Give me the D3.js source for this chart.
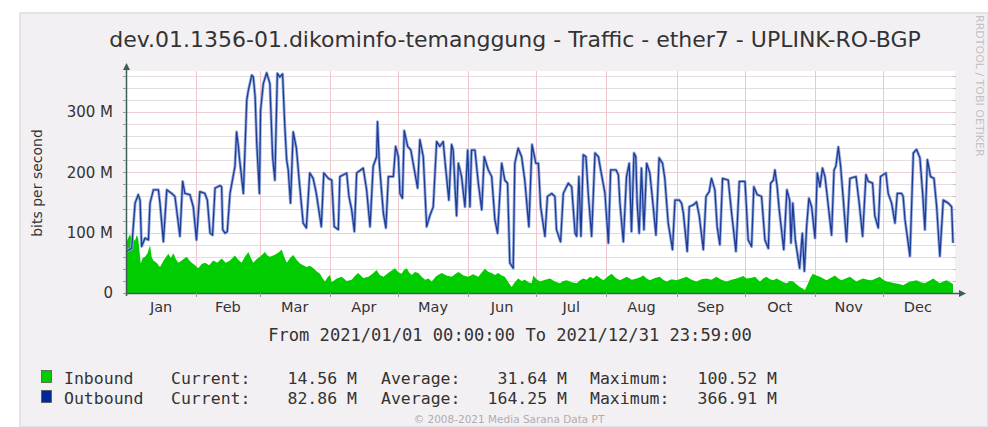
<!DOCTYPE html>
<html>
<head>
<meta charset="utf-8">
<script src="https://cdn.jsdelivr.net/npm/d3@7"></script>
<style>
  body { margin: 0; background: #fff; }
  svg { display: block; }
</style>
</head>
<body>
<div id="chart"></div>
<script>
/////////////////////////////////////////////////////////////////////
//DATA///////////////////////////////////////////////////////////////

var titleText = "dev.01.1356-01.dikominfo-temanggung - Traffic - ether7 - UPLINK-RO-BGP";
var rangeText = "From 2021/01/01 00:00:00 To 2021/12/31 23:59:00";
var monthLabels = ["Jan","Feb","Mar","Apr","May","Jun","Jul","Aug","Sep","Oct","Nov","Dec"];
var yTickValues = [0, 100, 200, 300];
var yTickLabels = ["0", "100 M", "200 M", "300 M"];

// [day of year, Mbit/s]
var inbound = [
  [0,82],[0.8,90],[1.8,98],[2.5,88],[3.2,92],[4.0,86],[4.7,96],[5.4,90],[6.5,49],[7.4,58],[8.4,60],
  [9.5,66],[10.6,79],[11.3,60],[12.1,54],[13.5,50],[15,43],[16.8,55],[18.7,65],[19.8,58],[20.9,66],
  [22,56],[23.1,50],[25,55],[26.8,60],[28,54],[29,50],[30.5,46],[31.9,41],[33.4,48],[34.9,50],
  [36.7,46],[38.5,54],[40.3,50],[42.2,57],[44,50],[45.9,54],[47,58],[48.1,62],[49.5,55],[51,50],
  [52.5,60],[54,68],[55.1,58],[56.2,50],[57.6,56],[59.1,60],[60.2,64],[61.3,68],[62.4,62],[63.5,60],
  [65,62],[66.5,65],[67.6,68],[68.7,72],[69.8,60],[71,50],[72.4,58],[73.8,63],[75.3,55],[76.8,49],
  [78.2,46],[79.7,43],[81.2,45],[82.7,41],[84.1,36],[85.6,32],[86.7,25],[87.8,19],[89,26],[90,30],
  [90.8,18],[93,24],[95.2,27],[97.4,20],[99.6,22],[101,28],[102.5,33],[104.7,25],[107,27],[108.8,32],
  [110.6,38],[112,30],[113.6,27],[116,34],[118.7,41],[120.1,35],[121.6,32],[122.7,38],[123.9,41],
  [125,34],[126.1,30],[127.5,35],[129,33],[130.5,27],[132,22],[133.5,24],[134.9,19],[137,28],[139.3,33],
  [141.5,29],[143.7,27],[145.2,31],[146.7,35],[149,29],[151,27],[153.2,31],[155.5,27],[157,34],[158.4,40],
  [160,35],[161.4,33],[162.8,30],[164.3,33],[165.8,29],[167.2,27],[168.7,18],[170.2,10],[171.6,18],
  [173.1,24],[174.6,20],[176.1,22],[177.6,18],[179,16],[179.8,29],[181.2,23],[182.7,19],[185,22],
  [187.1,24],[189.3,19],[191.5,16],[193,20],[194.5,21],[196.7,18],[198.9,16],[200.4,21],[201.8,24],
  [203.3,22],[204.8,27],[206.2,24],[207.7,29],[209.2,25],[210.7,21],[212.5,27],[214.3,32],[216.2,25],
  [218,21],[219.5,24],[221,27],[223.2,22],[225.4,24],[226.9,26],[228.3,29],[229.8,24],[231.2,21],
  [233.4,25],[235.6,27],[237.1,22],[238.6,19],[240.8,23],[243,21],[245.2,24],[247.4,27],[249.6,22],
  [251.8,19],[254,23],[256.2,24],[258.4,22],[260.6,27],[262.8,22],[265,19],[267.2,22],[269.5,24],
  [271,26],[272.4,28],[273.9,24],[275.7,25],[277.6,27],[279.8,19],[281.2,24],[282.7,27],[284.2,23],
  [285.7,21],[287.1,24],[288.6,21],[290.1,18],[291.6,16],[293,20],[294.5,19],[296,14],[297.4,10],
  [298.5,8],[299.6,5],[300.8,14],[301.9,24],[303.1,32],[304.7,29],[306.3,27],[307.7,24],[309.2,21],
  [311,25],[312.9,29],[314.4,24],[315.8,21],[317.6,24],[319.5,27],[321,23],[322.4,19],[323.9,22],
  [325.4,24],[327.2,22],[329.1,21],[330.9,24],[332.7,27],[334.2,22],[335.7,19],[337.5,18],[339.4,16],
  [341.2,15],[343,13],[344.5,16],[346,19],[347.5,20],[348.9,21],[350.7,18],[352.6,16],[354.4,20],
  [356.3,24],[357.7,20],[359.2,16],[360.7,19],[362.2,21],[363.7,18],[365,15]
];

var outbound = [
  [0.3,69],[1.5,72],[2.5,74],[4,149],[5.4,163],[6.2,154],[6.9,77],[8.4,91],[9.9,88],[10.6,149],[12.1,171],
  [14.3,171],[15,149],[16.5,85],[18,171],[20.2,165],[21.6,160],[23.8,94],[25,185],[26,165],[28.2,163],
  [29.7,143],[31.1,88],[32.6,168],[34.8,165],[35.9,154],[37.1,99],[38.2,96],[39.3,174],[41.5,178],
  [42.2,176],[42.7,105],[43.7,99],[44.7,102],[45.9,165],[48.1,210],[48.8,267],[49.6,243],[50,226],
  [51.8,165],[52.5,237],[53.3,320],[54,336],[55.5,361],[56.2,358],[57,325],[57.7,248],[58.9,165],
  [59.4,303],[60.6,347],[62.1,365],[63.5,347],[64.7,226],[65.7,187],[66.8,364],[67.9,358],[69.1,363],
  [70.1,276],[70.9,221],[71.6,204],[72.6,149],[73.8,267],[75.2,240],[76.7,176],[78.2,116],[79.6,108],
  [81.1,199],[82.6,190],[84,165],[86.2,110],[87.3,199],[89.3,190],[90.8,187],[91.9,110],[93.7,105],
  [94.4,193],[97.4,199],[98.4,160],[99.6,138],[100.8,102],[101.8,199],[104.7,207],[106.2,171],[107.7,110],
  [109.1,210],[110.6,226],[111,284],[111.8,215],[113.6,132],[114.7,108],[115.8,193],[118,193],[119,243],
  [120.2,226],[120.9,165],[122,157],[122.8,269],[124.3,243],[125.7,237],[127.5,199],[128.7,174],[129.7,254],
  [131.2,226],[132.7,110],[134.1,128],[135.6,143],[137.1,251],[138.5,243],[140,251],[141,210],[142.5,154],
  [143.7,246],[144.4,237],[145.2,176],[145.9,128],[146.7,215],[148.1,193],[149.6,143],[150.8,237],
  [151.8,143],[152.5,237],[154,237],[155.5,182],[157,138],[158.1,226],[159.9,204],[161.4,193],[162.8,122],
  [164,99],[165.8,215],[167.2,187],[168.4,182],[169.4,50],[170.9,41],[171.6,215],[173.1,240],[174.6,226],
  [176,187],[177.8,110],[179.2,246],[180.9,215],[182,215],[183,143],[184.9,94],[186,160],[187.9,165],
  [189.3,160],[190,105],[191.8,85],[193,165],[195.2,182],[196.7,176],[198.2,99],[198.9,94],[199.9,193],
  [200.8,94],[201.8,229],[203,226],[204,165],[205.5,94],[207,232],[208.5,226],[209.5,204],[211.4,165],
  [212.9,83],[213.9,204],[216.3,204],[217.3,196],[218,149],[219.5,85],[220.9,193],[222.1,215],[223.1,102],
  [224.2,232],[225,226],[225.6,149],[226.5,99],[227.5,207],[228.6,105],[229.8,215],[231.2,199],[232.4,154],
  [233.9,96],[235.3,224],[236.8,215],[237.8,190],[239.3,116],[241.2,72],[242.3,154],[244.2,154],[245.2,149],
  [246,132],[247.7,69],[248.6,143],[250.4,146],[251.8,151],[253,128],[254.8,72],[256,160],[257.4,168],
  [258.4,190],[259.9,171],[260.9,110],[262.1,80],[263.3,190],[265.8,187],[267.3,132],[269.2,69],[270.7,185],
  [273.2,185],[274.6,88],[276.1,77],[277.1,176],[278.6,163],[280.5,160],[282,88],[283.5,74],[284.5,182],
  [285.7,187],[286.4,204],[287.4,176],[288.3,138],[290.3,72],[291.7,171],[292.9,154],[293.5,83],[294.3,149],
  [295.4,88],[297.3,41],[298.5,99],[299.4,36],[300.4,110],[301.4,157],[302.6,143],[304.1,91],[305.1,199],
  [306.3,176],[307.4,207],[308.5,193],[309.5,160],[311.4,96],[312.5,204],[313.3,210],[314.4,242],[315.4,210],
  [316.6,154],[318,85],[319.5,190],[322.2,193],[323.6,149],[325.1,94],[326.6,196],[327.6,185],[329.5,182],
  [330.5,128],[332,108],[333,193],[335.4,199],[336.4,165],[337.9,149],[339.4,116],[340.4,165],[342.3,165],
  [343,160],[343.8,122],[346,61],[347.5,232],[348.9,238],[350.4,224],[351.6,165],[352.6,105],[353.7,221],
  [355.1,193],[356.6,190],[357.8,143],[359.2,61],[360.7,154],[362.9,149],[364.4,143],[365,83]
];

var legendNames = ["Inbound", "Outbound"];
var legendColors = ["#00cc00", "#002a97"];
var legendCurrent = ["14.56 M", "82.86 M"];
var legendAverage = ["31.64 M", "164.25 M"];
var legendMaximum = ["100.52 M", "366.91 M"];

/////////////////////////////////////////////////////////////////////
//PAGE SETUP/////////////////////////////////////////////////////////

var width = 988, height = 427;
var plotLeft = 126, plotRight = 953, plotTop = 71, plotBottom = 293;

var svg = d3.select("#chart").append("svg")
  .attr("width", width).attr("height", height);

// background frame
svg.append("rect").attr("x", 0).attr("y", 0).attr("width", width).attr("height", height).attr("fill", "#ffffff");
svg.append("rect").attr("x", 20).attr("y", 13).attr("width", width - 20).attr("height", height - 13)
  .attr("fill", "#f3f0f3").attr("stroke", "#dedbdf").attr("stroke-width", 1.5);

svg.append("rect").attr("x", plotLeft).attr("y", plotTop)
  .attr("width", plotRight - plotLeft + 2).attr("height", plotBottom - plotTop)
  .attr("fill", "#ffffff");

var start = new Date(2021, 0, 1);
var end = new Date(2022, 0, 1);
var x = d3.scaleTime().domain([start, end]).range([plotLeft, plotRight]);
var y = d3.scaleLinear().domain([0, 368]).range([plotBottom, plotTop]);

function dayToDate(d){ return new Date(start.getTime() + d * 86400000); }

//GRID///////////////////////////////////////////////////////////////
var minorVals = d3.range(20, 361, 20).filter(function(v){ return v % 100 !== 0; });
svg.append("g").selectAll("line").data(minorVals)
  .enter().append("line")
  .attr("x1", plotLeft).attr("x2", plotRight + 2)
  .attr("y1", function(d){ return Math.round(y(d)) + 0.5; })
  .attr("y2", function(d){ return Math.round(y(d)) + 0.5; })
  .attr("stroke", "#e6dde2").attr("stroke-width", 1);

svg.append("g").selectAll("line").data(yTickValues.slice(1))
  .enter().append("line")
  .attr("x1", plotLeft).attr("x2", plotRight + 2)
  .attr("y1", function(d){ return Math.round(y(d)) + 0.5; })
  .attr("y2", function(d){ return Math.round(y(d)) + 0.5; })
  .attr("stroke", "#efcfd3").attr("stroke-width", 1);

var monthStarts = d3.timeMonth.range(start, end);
svg.append("g").selectAll("line").data(monthStarts.slice(1))
  .enter().append("line")
  .attr("x1", function(d){ return Math.round(x(d)) + 0.5; })
  .attr("x2", function(d){ return Math.round(x(d)) + 0.5; })
  .attr("y1", plotTop).attr("y2", plotBottom + 3)
  .attr("stroke", "#f0c8cc").attr("stroke-width", 1);

// small ticks on the right edge
svg.append("g").selectAll("line").data(d3.range(20, 361, 20))
  .enter().append("line")
  .attr("x1", plotRight).attr("x2", plotRight + 3)
  .attr("y1", function(d){ return Math.round(y(d)) + 0.5; })
  .attr("y2", function(d){ return Math.round(y(d)) + 0.5; })
  .attr("stroke", "#c8c0c8");

//DATA MARKS/////////////////////////////////////////////////////////
var area = d3.area()
  .x(function(d){ return x(dayToDate(d[0])); })
  .y0(y(0))
  .y1(function(d){ return y(d[1]); });

svg.append("path").datum(inbound)
  .attr("d", area).attr("fill", "#00cc00");

var line = d3.line()
  .x(function(d){ return x(dayToDate(d[0])); })
  .y(function(d){ return y(d[1]); });

svg.append("path").datum(outbound)
  .attr("d", line).attr("fill", "none")
  .attr("stroke", "#9aaede").attr("stroke-width", 3).attr("stroke-linejoin", "round");
svg.append("path").datum(outbound)
  .attr("d", line).attr("fill", "none")
  .attr("stroke", "#1d3c96").attr("stroke-width", 1.3).attr("stroke-linejoin", "round");

//AXES///////////////////////////////////////////////////////////////
var axisColor = "#3d5e52";
svg.append("line").attr("x1", plotLeft).attr("x2", plotRight + 8)
  .attr("y1", plotBottom + 0.5).attr("y2", plotBottom + 0.5)
  .attr("stroke", axisColor).attr("stroke-width", 1.5);
svg.append("path")
  .attr("d", "M" + (plotRight + 13) + "," + (plotBottom + 0.5) + " l-7,-3.5 l0,7 z")
  .attr("fill", axisColor);

svg.append("line").attr("x1", plotLeft + 0.5).attr("x2", plotLeft + 0.5)
  .attr("y1", plotBottom + 3).attr("y2", plotTop - 4)
  .attr("stroke", axisColor).attr("stroke-width", 1.5);
svg.append("path")
  .attr("d", "M" + (plotLeft + 0.5) + "," + (plotTop - 8) + " l-3.5,7 l7,0 z")
  .attr("fill", axisColor);

// y ticks
svg.append("g").selectAll("line").data(d3.range(0, 361, 20))
  .enter().append("line")
  .attr("x1", plotLeft - 3).attr("x2", plotLeft)
  .attr("y1", function(d){ return Math.round(y(d)) + 0.5; })
  .attr("y2", function(d){ return Math.round(y(d)) + 0.5; })
  .attr("stroke", "#9a9a9a");

svg.append("g").selectAll("text").data(yTickValues)
  .enter().append("text")
  .attr("x", 113)
  .attr("y", function(d){ return y(d); })
  .attr("dy", "0.36em")
  .attr("text-anchor", "end")
  .style("font-family", "DejaVu Sans")
  .style("font-size", "15px")
  .attr("fill", "#333")
  .text(function(d, i){ return yTickLabels[i]; });

// x ticks and month labels
svg.append("g").selectAll("line").data(monthStarts.slice(1))
  .enter().append("line")
  .attr("x1", function(d){ return Math.round(x(d)) + 0.5; })
  .attr("x2", function(d){ return Math.round(x(d)) + 0.5; })
  .attr("y1", plotBottom).attr("y2", plotBottom + 4)
  .attr("stroke", "#9a9a9a");

svg.append("g").selectAll("text").data(monthStarts)
  .enter().append("text")
  .attr("x", function(d){
    var next = d3.timeMonth.offset(d, 1);
    return (x(d) + x(next)) / 2;
  })
  .attr("y", 312)
  .attr("text-anchor", "middle")
  .style("font-family", "DejaVu Sans")
  .style("font-size", "14.5px")
  .attr("fill", "#333")
  .text(function(d, i){ return monthLabels[i]; });

//TEXTS//////////////////////////////////////////////////////////////
svg.append("text").attr("x", 515).attr("y", 47)
  .attr("text-anchor", "middle")
  .style("font-family", "DejaVu Sans").style("font-size", "22px")
  .attr("fill", "#333").text(titleText);

svg.append("text")
  .attr("transform", "translate(42,183) rotate(-90)")
  .attr("text-anchor", "middle")
  .style("font-family", "DejaVu Sans").style("font-size", "14px")
  .attr("fill", "#333").text("bits per second");

svg.append("text").attr("x", 510).attr("y", 341)
  .attr("text-anchor", "middle")
  .style("font-family", "DejaVu Sans Mono").style("font-size", "17.1px")
  .attr("fill", "#333").text(rangeText);

svg.append("text")
  .attr("transform", "translate(976,15) rotate(90)")
  .style("font-family", "DejaVu Sans").style("font-size", "11px")
  .attr("fill", "#c4c0c4").text("RRDTOOL / TOBI OETIKER");

svg.append("text").attr("x", 509).attr("y", 423)
  .attr("text-anchor", "middle")
  .style("font-family", "DejaVu Sans").style("font-size", "10.5px")
  .attr("fill", "#b0acb0").text("\u00a9 2008-2021 Media Sarana Data PT");

//LEGEND/////////////////////////////////////////////////////////////
var legend = svg.append("g").selectAll("g").data(legendNames)
  .enter().append("g")
  .attr("transform", function(d, i){ return "translate(0," + (384 + i * 20) + ")"; });

legend.append("rect").attr("x", 41.5).attr("y", -13.5).attr("width", 10).attr("height", 12)
  .attr("fill", function(d, i){ return legendColors[i]; })
  .attr("stroke", "#555").attr("stroke-width", 0.8);

function legendText(xPos, fn, anchor){
  legend.append("text").attr("x", xPos).attr("y", 0)
    .attr("text-anchor", anchor || "start")
    .style("font-family", "DejaVu Sans Mono").style("font-size", "16.5px")
    .attr("fill", "#333")
    .text(fn);
}
legendText(64, function(d){ return d; });
legendText(171, function(){ return "Current:"; });
legendText(357, function(d, i){ return legendCurrent[i]; }, "end");
legendText(381, function(){ return "Average:"; });
legendText(567, function(d, i){ return legendAverage[i]; }, "end");
legendText(590, function(){ return "Maximum:"; });
legendText(777, function(d, i){ return legendMaximum[i]; }, "end");
</script>
</body>
</html>
